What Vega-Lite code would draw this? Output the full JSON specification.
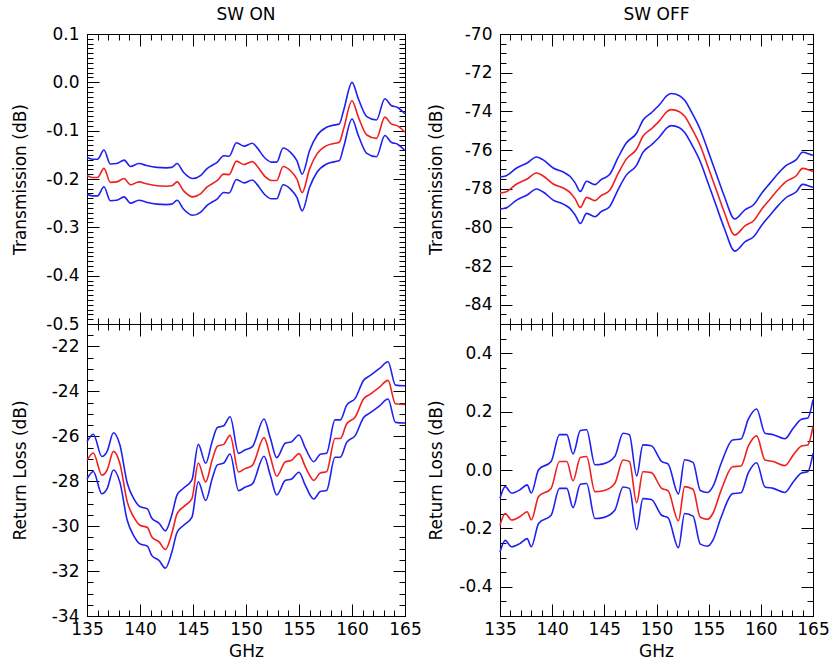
{
"$schema": "https://vega.github.io/schema/vega-lite/v6.json",
"background": "white",
"padding": {"left": 11, "top": 6, "right": 10, "bottom": 2},
"autosize": {"type": "pad"},
"datasets": {
"tl": [
{"f":135.0,"mid":-0.193,"hi":-0.155,"lo":-0.231},
{"f":135.5,"mid":-0.197,"hi":-0.159,"lo":-0.235},
{"f":136.0,"mid":-0.197,"hi":-0.159,"lo":-0.235},
{"f":136.6,"mid":-0.178,"hi":-0.140,"lo":-0.216},
{"f":137.2,"mid":-0.207,"hi":-0.169,"lo":-0.245},
{"f":137.8,"mid":-0.206,"hi":-0.168,"lo":-0.244},
{"f":138.5,"mid":-0.199,"hi":-0.161,"lo":-0.237},
{"f":139.1,"mid":-0.212,"hi":-0.174,"lo":-0.250},
{"f":139.9,"mid":-0.206,"hi":-0.168,"lo":-0.244},
{"f":140.6,"mid":-0.210,"hi":-0.172,"lo":-0.248},
{"f":141.6,"mid":-0.214,"hi":-0.176,"lo":-0.252},
{"f":142.5,"mid":-0.215,"hi":-0.177,"lo":-0.253},
{"f":143.0,"mid":-0.214,"hi":-0.176,"lo":-0.252},
{"f":143.5,"mid":-0.206,"hi":-0.168,"lo":-0.244},
{"f":144.1,"mid":-0.224,"hi":-0.186,"lo":-0.262},
{"f":145.0,"mid":-0.237,"hi":-0.199,"lo":-0.275},
{"f":145.7,"mid":-0.231,"hi":-0.193,"lo":-0.269},
{"f":146.3,"mid":-0.217,"hi":-0.179,"lo":-0.255},
{"f":147.3,"mid":-0.203,"hi":-0.165,"lo":-0.241},
{"f":147.9,"mid":-0.190,"hi":-0.152,"lo":-0.228},
{"f":148.4,"mid":-0.191,"hi":-0.153,"lo":-0.229},
{"f":149.1,"mid":-0.163,"hi":-0.125,"lo":-0.201},
{"f":149.8,"mid":-0.170,"hi":-0.132,"lo":-0.208},
{"f":150.6,"mid":-0.164,"hi":-0.126,"lo":-0.202},
{"f":151.0,"mid":-0.172,"hi":-0.134,"lo":-0.210},
{"f":151.8,"mid":-0.195,"hi":-0.157,"lo":-0.233},
{"f":152.4,"mid":-0.203,"hi":-0.165,"lo":-0.241},
{"f":152.9,"mid":-0.203,"hi":-0.165,"lo":-0.241},
{"f":153.5,"mid":-0.174,"hi":-0.136,"lo":-0.212},
{"f":154.2,"mid":-0.183,"hi":-0.145,"lo":-0.221},
{"f":154.8,"mid":-0.200,"hi":-0.162,"lo":-0.238},
{"f":155.3,"mid":-0.228,"hi":-0.190,"lo":-0.266},
{"f":156.0,"mid":-0.179,"hi":-0.141,"lo":-0.217},
{"f":156.7,"mid":-0.148,"hi":-0.110,"lo":-0.186},
{"f":157.6,"mid":-0.131,"hi":-0.093,"lo":-0.169},
{"f":158.4,"mid":-0.126,"hi":-0.088,"lo":-0.164},
{"f":158.8,"mid":-0.124,"hi":-0.086,"lo":-0.162},
{"f":159.2,"mid":-0.097,"hi":-0.059,"lo":-0.135},
{"f":160.0,"mid":-0.038,"hi":0.000,"lo":-0.076},
{"f":160.6,"mid":-0.072,"hi":-0.034,"lo":-0.110},
{"f":161.4,"mid":-0.109,"hi":-0.071,"lo":-0.147},
{"f":162.3,"mid":-0.116,"hi":-0.078,"lo":-0.154},
{"f":163.1,"mid":-0.072,"hi":-0.034,"lo":-0.110},
{"f":163.7,"mid":-0.086,"hi":-0.048,"lo":-0.124},
{"f":164.3,"mid":-0.090,"hi":-0.052,"lo":-0.128},
{"f":165.0,"mid":-0.103,"hi":-0.065,"lo":-0.141}
],
"tr": [
{"f":135.0,"mid":-78.22,"hi":-77.39,"lo":-79.05},
{"f":135.6,"mid":-78.16,"hi":-77.33,"lo":-78.99},
{"f":136.6,"mid":-77.76,"hi":-76.93,"lo":-78.59},
{"f":137.6,"mid":-77.50,"hi":-76.67,"lo":-78.33},
{"f":138.5,"mid":-77.19,"hi":-76.36,"lo":-78.02},
{"f":139.1,"mid":-77.33,"hi":-76.50,"lo":-78.16},
{"f":140.1,"mid":-77.76,"hi":-76.93,"lo":-78.59},
{"f":141.1,"mid":-77.98,"hi":-77.15,"lo":-78.81},
{"f":141.7,"mid":-78.19,"hi":-77.36,"lo":-79.02},
{"f":142.2,"mid":-78.53,"hi":-77.70,"lo":-79.36},
{"f":142.7,"mid":-78.97,"hi":-78.14,"lo":-79.80},
{"f":143.3,"mid":-78.45,"hi":-77.62,"lo":-79.28},
{"f":144.1,"mid":-78.62,"hi":-77.79,"lo":-79.45},
{"f":144.7,"mid":-78.36,"hi":-77.53,"lo":-79.19},
{"f":145.5,"mid":-78.10,"hi":-77.27,"lo":-78.93},
{"f":146.3,"mid":-77.24,"hi":-76.41,"lo":-78.07},
{"f":147.1,"mid":-76.47,"hi":-75.64,"lo":-77.30},
{"f":148.1,"mid":-75.95,"hi":-75.12,"lo":-76.78},
{"f":148.7,"mid":-75.29,"hi":-74.46,"lo":-76.12},
{"f":149.5,"mid":-74.91,"hi":-74.08,"lo":-75.74},
{"f":150.3,"mid":-74.48,"hi":-73.65,"lo":-75.31},
{"f":151.0,"mid":-74.02,"hi":-73.19,"lo":-74.85},
{"f":151.4,"mid":-73.91,"hi":-73.08,"lo":-74.74},
{"f":152.2,"mid":-74.02,"hi":-73.19,"lo":-74.85},
{"f":152.7,"mid":-74.26,"hi":-73.43,"lo":-75.09},
{"f":153.4,"mid":-74.91,"hi":-74.08,"lo":-75.74},
{"f":154.2,"mid":-75.78,"hi":-74.95,"lo":-76.61},
{"f":154.9,"mid":-76.81,"hi":-75.98,"lo":-77.64},
{"f":155.7,"mid":-78.02,"hi":-77.19,"lo":-78.85},
{"f":156.5,"mid":-79.22,"hi":-78.39,"lo":-80.05},
{"f":157.5,"mid":-80.40,"hi":-79.57,"lo":-81.23},
{"f":158.5,"mid":-79.91,"hi":-79.08,"lo":-80.74},
{"f":159.3,"mid":-79.66,"hi":-78.83,"lo":-80.49},
{"f":160.1,"mid":-79.05,"hi":-78.22,"lo":-79.88},
{"f":160.9,"mid":-78.53,"hi":-77.70,"lo":-79.36},
{"f":161.7,"mid":-78.02,"hi":-77.19,"lo":-78.85},
{"f":162.4,"mid":-77.64,"hi":-76.81,"lo":-78.47},
{"f":163.4,"mid":-77.33,"hi":-76.50,"lo":-78.16},
{"f":164.0,"mid":-76.95,"hi":-76.12,"lo":-77.78},
{"f":164.8,"mid":-77.07,"hi":-76.24,"lo":-77.90},
{"f":165.0,"mid":-77.10,"hi":-76.27,"lo":-77.93}
],
"bl": [
{"f":135.0,"mid":-27.07,"hi":-26.24,"lo":-27.90},
{"f":135.6,"mid":-26.74,"hi":-25.91,"lo":-27.57},
{"f":136.4,"mid":-27.73,"hi":-26.90,"lo":-28.56},
{"f":136.9,"mid":-27.50,"hi":-26.67,"lo":-28.33},
{"f":137.5,"mid":-26.67,"hi":-25.84,"lo":-27.50},
{"f":138.1,"mid":-27.21,"hi":-26.38,"lo":-28.04},
{"f":138.8,"mid":-28.92,"hi":-28.09,"lo":-29.75},
{"f":139.4,"mid":-29.59,"hi":-28.76,"lo":-30.42},
{"f":140.0,"mid":-29.96,"hi":-29.13,"lo":-30.79},
{"f":140.7,"mid":-30.06,"hi":-29.23,"lo":-30.89},
{"f":141.1,"mid":-30.47,"hi":-29.64,"lo":-31.30},
{"f":141.8,"mid":-30.70,"hi":-29.87,"lo":-31.53},
{"f":142.4,"mid":-31.04,"hi":-30.21,"lo":-31.87},
{"f":143.0,"mid":-30.33,"hi":-29.50,"lo":-31.16},
{"f":143.5,"mid":-29.44,"hi":-28.61,"lo":-30.27},
{"f":144.1,"mid":-29.14,"hi":-28.31,"lo":-29.97},
{"f":144.9,"mid":-28.77,"hi":-27.94,"lo":-29.60},
{"f":145.5,"mid":-27.19,"hi":-26.36,"lo":-28.02},
{"f":146.2,"mid":-28.03,"hi":-27.20,"lo":-28.86},
{"f":146.8,"mid":-27.07,"hi":-26.24,"lo":-27.90},
{"f":147.3,"mid":-26.44,"hi":-25.61,"lo":-27.27},
{"f":147.9,"mid":-26.36,"hi":-25.53,"lo":-27.19},
{"f":148.5,"mid":-25.96,"hi":-25.13,"lo":-26.79},
{"f":149.3,"mid":-27.59,"hi":-26.76,"lo":-28.42},
{"f":149.9,"mid":-27.44,"hi":-26.61,"lo":-28.27},
{"f":150.6,"mid":-27.29,"hi":-26.46,"lo":-28.12},
{"f":151.7,"mid":-26.06,"hi":-25.23,"lo":-26.89},
{"f":152.3,"mid":-26.92,"hi":-26.09,"lo":-27.75},
{"f":152.9,"mid":-27.78,"hi":-26.95,"lo":-28.61},
{"f":153.7,"mid":-27.14,"hi":-26.31,"lo":-27.97},
{"f":154.3,"mid":-27.07,"hi":-26.24,"lo":-27.90},
{"f":155.0,"mid":-26.77,"hi":-25.94,"lo":-27.60},
{"f":155.6,"mid":-27.36,"hi":-26.53,"lo":-28.19},
{"f":156.4,"mid":-27.96,"hi":-27.13,"lo":-28.79},
{"f":157.0,"mid":-27.63,"hi":-26.80,"lo":-28.46},
{"f":157.6,"mid":-27.58,"hi":-26.75,"lo":-28.41},
{"f":158.4,"mid":-26.10,"hi":-25.27,"lo":-26.93},
{"f":158.9,"mid":-26.10,"hi":-25.27,"lo":-26.93},
{"f":159.5,"mid":-25.44,"hi":-24.61,"lo":-26.27},
{"f":160.3,"mid":-25.14,"hi":-24.31,"lo":-25.97},
{"f":161.1,"mid":-24.33,"hi":-23.50,"lo":-25.16},
{"f":161.7,"mid":-24.13,"hi":-23.30,"lo":-24.96},
{"f":162.6,"mid":-23.81,"hi":-22.98,"lo":-24.64},
{"f":163.4,"mid":-23.51,"hi":-22.68,"lo":-24.34},
{"f":164.1,"mid":-24.55,"hi":-23.72,"lo":-25.38},
{"f":165.0,"mid":-24.58,"hi":-23.75,"lo":-25.41}
],
"br": [
{"f":135.0,"mid":-0.189,"hi":-0.097,"lo":-0.281},
{"f":135.5,"mid":-0.149,"hi":-0.057,"lo":-0.241},
{"f":136.1,"mid":-0.171,"hi":-0.079,"lo":-0.263},
{"f":136.9,"mid":-0.160,"hi":-0.068,"lo":-0.252},
{"f":137.6,"mid":-0.143,"hi":-0.051,"lo":-0.235},
{"f":138.0,"mid":-0.171,"hi":-0.079,"lo":-0.263},
{"f":138.7,"mid":-0.091,"hi":0.001,"lo":-0.183},
{"f":139.9,"mid":-0.063,"hi":0.029,"lo":-0.155},
{"f":140.7,"mid":0.029,"hi":0.121,"lo":-0.063},
{"f":141.4,"mid":0.029,"hi":0.121,"lo":-0.063},
{"f":142.0,"mid":-0.037,"hi":0.055,"lo":-0.129},
{"f":142.7,"mid":0.043,"hi":0.135,"lo":-0.049},
{"f":143.3,"mid":0.046,"hi":0.138,"lo":-0.046},
{"f":144.1,"mid":-0.074,"hi":0.018,"lo":-0.166},
{"f":144.9,"mid":-0.071,"hi":0.021,"lo":-0.163},
{"f":146.0,"mid":-0.046,"hi":0.046,"lo":-0.138},
{"f":146.8,"mid":0.034,"hi":0.126,"lo":-0.058},
{"f":147.4,"mid":0.029,"hi":0.121,"lo":-0.063},
{"f":148.1,"mid":-0.112,"hi":-0.020,"lo":-0.204},
{"f":148.7,"mid":-0.006,"hi":0.086,"lo":-0.098},
{"f":149.5,"mid":-0.009,"hi":0.083,"lo":-0.101},
{"f":150.5,"mid":-0.063,"hi":0.029,"lo":-0.155},
{"f":151.1,"mid":-0.071,"hi":0.021,"lo":-0.163},
{"f":152.1,"mid":-0.174,"hi":-0.082,"lo":-0.266},
{"f":152.7,"mid":-0.057,"hi":0.035,"lo":-0.149},
{"f":153.5,"mid":-0.066,"hi":0.026,"lo":-0.158},
{"f":154.2,"mid":-0.162,"hi":-0.070,"lo":-0.254},
{"f":154.9,"mid":-0.169,"hi":-0.077,"lo":-0.261},
{"f":155.4,"mid":-0.149,"hi":-0.057,"lo":-0.241},
{"f":156.2,"mid":-0.069,"hi":0.023,"lo":-0.161},
{"f":157.3,"mid":0.011,"hi":0.103,"lo":-0.081},
{"f":158.1,"mid":0.014,"hi":0.106,"lo":-0.078},
{"f":158.8,"mid":0.082,"hi":0.174,"lo":-0.010},
{"f":159.6,"mid":0.117,"hi":0.209,"lo":0.025},
{"f":160.4,"mid":0.034,"hi":0.126,"lo":-0.058},
{"f":161.2,"mid":0.029,"hi":0.121,"lo":-0.063},
{"f":162.3,"mid":0.015,"hi":0.107,"lo":-0.077},
{"f":163.1,"mid":0.051,"hi":0.143,"lo":-0.041},
{"f":163.9,"mid":0.082,"hi":0.174,"lo":-0.010},
{"f":164.5,"mid":0.086,"hi":0.178,"lo":-0.006},
{"f":165.0,"mid":0.149,"hi":0.241,"lo":0.057}
]
},
"concat": [
{"width": 318, "height": 290, "title": {"text": "SW ON", "offset": 1}, "data": {"name": "tl"},
 "layer": [
  {"mark": {"type": "line", "color": "#2020f0", "strokeWidth": 1.6, "interpolate": "monotone"},
   "encoding": {
    "x": {"field": "f", "type": "quantitative", "scale": {"domain": [135, 165], "nice": false, "zero": false},
          "axis": {"orient": "bottom", "values": [135,140,145,150,155,160,165], "tickSize": -12, "labels": false, "title": null}},
    "y": {"field": "hi", "type": "quantitative", "scale": {"domain": [-0.5, 0.1], "nice": false, "zero": false},
          "axis": {"orient": "left", "values": [-0.5,-0.4,-0.3,-0.2,-0.1,0,0.1], "tickSize": -12, "labelPadding": 20, "format": ".1f", "labelExpr": "replace(datum.label, '\u2212', '-')", "title": "Transmission (dB)", "titleX": -67, "titleY": 145, "titleBaseline": "middle", "titleAlign": "center", "titleAngle": -90}}}},
  {"mark": {"type": "line", "color": "#2020f0", "strokeWidth": 1.6, "interpolate": "monotone"},
   "encoding": {
    "x": {"field": "f", "type": "quantitative", "scale": {"domain": [135, 165], "nice": false, "zero": false},
          "axis": {"orient": "top", "values": [135,140,145,150,155,160,165], "tickSize": -12, "labels": false, "title": null}},
    "y": {"field": "lo", "type": "quantitative", "scale": {"domain": [-0.5, 0.1], "nice": false, "zero": false},
          "axis": {"orient": "right", "values": [-0.5,-0.4,-0.3,-0.2,-0.1,0,0.1], "tickSize": -12, "labels": false, "title": null}}}},
  {"mark": {"type": "line", "color": "#f02020", "strokeWidth": 1.6, "interpolate": "monotone"},
   "encoding": {
    "x": {"field": "f", "type": "quantitative", "scale": {"domain": [135, 165], "nice": false, "zero": false},
          "axis": {"orient": "bottom", "values": [135,136,137,138,139,140,141,142,143,144,145,146,147,148,149,150,151,152,153,154,155,156,157,158,159,160,161,162,163,164,165], "tickSize": -6, "labels": false, "domain": false, "title": null}},
    "y": {"field": "mid", "type": "quantitative", "scale": {"domain": [-0.5, 0.1], "nice": false, "zero": false},
          "axis": {"orient": "left", "values": [-0.5,-0.49,-0.48,-0.47,-0.46,-0.45,-0.44,-0.43,-0.42,-0.41,-0.4,-0.39,-0.38,-0.37,-0.36,-0.35,-0.34,-0.33,-0.32,-0.31,-0.3,-0.29,-0.28,-0.27,-0.26,-0.25,-0.24,-0.23,-0.22,-0.21,-0.2,-0.19,-0.18,-0.17,-0.16,-0.15,-0.14,-0.13,-0.12,-0.11,-0.1,-0.09,-0.08,-0.07,-0.06,-0.05,-0.04,-0.03,-0.02,-0.01,0,0.01,0.02,0.03,0.04,0.05,0.06,0.07,0.08,0.09,0.1], "tickSize": -6, "labels": false, "domain": false, "title": null}}}},
  {"mark": {"type": "line", "opacity": 0},
   "encoding": {
    "x": {"field": "f", "type": "quantitative", "scale": {"domain": [135, 165], "nice": false, "zero": false},
          "axis": {"orient": "top", "values": [135,136,137,138,139,140,141,142,143,144,145,146,147,148,149,150,151,152,153,154,155,156,157,158,159,160,161,162,163,164,165], "tickSize": -6, "labels": false, "domain": false, "title": null}},
    "y": {"field": "mid", "type": "quantitative", "scale": {"domain": [-0.5, 0.1], "nice": false, "zero": false},
          "axis": {"orient": "right", "values": [-0.5,-0.49,-0.48,-0.47,-0.46,-0.45,-0.44,-0.43,-0.42,-0.41,-0.4,-0.39,-0.38,-0.37,-0.36,-0.35,-0.34,-0.33,-0.32,-0.31,-0.3,-0.29,-0.28,-0.27,-0.26,-0.25,-0.24,-0.23,-0.22,-0.21,-0.2,-0.19,-0.18,-0.17,-0.16,-0.15,-0.14,-0.13,-0.12,-0.11,-0.1,-0.09,-0.08,-0.07,-0.06,-0.05,-0.04,-0.03,-0.02,-0.01,0,0.01,0.02,0.03,0.04,0.05,0.06,0.07,0.08,0.09,0.1], "tickSize": -6, "labels": false, "domain": false, "title": null}}}}
 ],
 "resolve": {"axis": {"x": "independent", "y": "independent"}}
},
{"width": 313, "height": 290, "title": {"text": "SW OFF", "offset": 1}, "data": {"name": "tr"},
 "layer": [
  {"mark": {"type": "line", "color": "#2020f0", "strokeWidth": 1.6, "interpolate": "monotone"},
   "encoding": {
    "x": {"field": "f", "type": "quantitative", "scale": {"domain": [135, 165], "nice": false, "zero": false},
          "axis": {"orient": "bottom", "values": [135,140,145,150,155,160,165], "tickSize": -12, "labels": false, "title": null}},
    "y": {"field": "hi", "type": "quantitative", "scale": {"domain": [-85, -70], "nice": false, "zero": false},
          "axis": {"orient": "left", "values": [-84,-82,-80,-78,-76,-74,-72,-70], "tickSize": -12, "labelPadding": 20, "format": "d", "labelExpr": "replace(datum.label, '\u2212', '-')", "title": "Transmission (dB)", "titleX": -64, "titleY": 145, "titleBaseline": "middle", "titleAlign": "center", "titleAngle": -90}}}},
  {"mark": {"type": "line", "color": "#2020f0", "strokeWidth": 1.6, "interpolate": "monotone"},
   "encoding": {
    "x": {"field": "f", "type": "quantitative", "scale": {"domain": [135, 165], "nice": false, "zero": false},
          "axis": {"orient": "top", "values": [135,140,145,150,155,160,165], "tickSize": -12, "labels": false, "title": null}},
    "y": {"field": "lo", "type": "quantitative", "scale": {"domain": [-85, -70], "nice": false, "zero": false},
          "axis": {"orient": "right", "values": [-84,-82,-80,-78,-76,-74,-72,-70], "tickSize": -12, "labels": false, "title": null}}}},
  {"mark": {"type": "line", "color": "#f02020", "strokeWidth": 1.6, "interpolate": "monotone"},
   "encoding": {
    "x": {"field": "f", "type": "quantitative", "scale": {"domain": [135, 165], "nice": false, "zero": false},
          "axis": {"orient": "bottom", "values": [135,136,137,138,139,140,141,142,143,144,145,146,147,148,149,150,151,152,153,154,155,156,157,158,159,160,161,162,163,164,165], "tickSize": -6, "labels": false, "domain": false, "title": null}},
    "y": {"field": "mid", "type": "quantitative", "scale": {"domain": [-85, -70], "nice": false, "zero": false},
          "axis": {"orient": "left", "values": [-85,-84.5,-84,-83.5,-83,-82.5,-82,-81.5,-81,-80.5,-80,-79.5,-79,-78.5,-78,-77.5,-77,-76.5,-76,-75.5,-75,-74.5,-74,-73.5,-73,-72.5,-72,-71.5,-71,-70.5,-70], "tickSize": -6, "labels": false, "domain": false, "title": null}}}},
  {"mark": {"type": "line", "opacity": 0},
   "encoding": {
    "x": {"field": "f", "type": "quantitative", "scale": {"domain": [135, 165], "nice": false, "zero": false},
          "axis": {"orient": "top", "values": [135,136,137,138,139,140,141,142,143,144,145,146,147,148,149,150,151,152,153,154,155,156,157,158,159,160,161,162,163,164,165], "tickSize": -6, "labels": false, "domain": false, "title": null}},
    "y": {"field": "mid", "type": "quantitative", "scale": {"domain": [-85, -70], "nice": false, "zero": false},
          "axis": {"orient": "right", "values": [-85,-84.5,-84,-83.5,-83,-82.5,-82,-81.5,-81,-80.5,-80,-79.5,-79,-78.5,-78,-77.5,-77,-76.5,-76,-75.5,-75,-74.5,-74,-73.5,-73,-72.5,-72,-71.5,-71,-70.5,-70], "tickSize": -6, "labels": false, "domain": false, "title": null}}}}
 ],
 "resolve": {"axis": {"x": "independent", "y": "independent"}}
},
{"width": 318, "height": 292, "data": {"name": "bl"},
 "layer": [
  {"mark": {"type": "line", "color": "#2020f0", "strokeWidth": 1.6, "interpolate": "monotone"},
   "encoding": {
    "x": {"field": "f", "type": "quantitative", "scale": {"domain": [135, 165], "nice": false, "zero": false},
          "axis": {"orient": "bottom", "values": [135,140,145,150,155,160,165], "tickSize": -12, "labelPadding": 17, "format": "d", "title": "GHz", "titleX": 159, "titleY": 35, "titleBaseline": "middle", "titleAlign": "center"}},
    "y": {"field": "hi", "type": "quantitative", "scale": {"domain": [-34, -21], "nice": false, "zero": false},
          "axis": {"orient": "left", "values": [-34,-32,-30,-28,-26,-24,-22], "tickSize": -12, "labelPadding": 20, "format": "d", "labelExpr": "replace(datum.label, '\u2212', '-')", "title": "Return Loss (dB)", "titleX": -67, "titleY": 146, "titleBaseline": "middle", "titleAlign": "center", "titleAngle": -90}}}},
  {"mark": {"type": "line", "color": "#2020f0", "strokeWidth": 1.6, "interpolate": "monotone"},
   "encoding": {
    "x": {"field": "f", "type": "quantitative", "scale": {"domain": [135, 165], "nice": false, "zero": false},
          "axis": {"orient": "top", "values": [135,140,145,150,155,160,165], "tickSize": -12, "labels": false, "title": null}},
    "y": {"field": "lo", "type": "quantitative", "scale": {"domain": [-34, -21], "nice": false, "zero": false},
          "axis": {"orient": "right", "values": [-34,-32,-30,-28,-26,-24,-22], "tickSize": -12, "labels": false, "title": null}}}},
  {"mark": {"type": "line", "color": "#f02020", "strokeWidth": 1.6, "interpolate": "monotone"},
   "encoding": {
    "x": {"field": "f", "type": "quantitative", "scale": {"domain": [135, 165], "nice": false, "zero": false},
          "axis": {"orient": "bottom", "values": [135,136,137,138,139,140,141,142,143,144,145,146,147,148,149,150,151,152,153,154,155,156,157,158,159,160,161,162,163,164,165], "tickSize": -6, "labels": false, "domain": false, "title": null}},
    "y": {"field": "mid", "type": "quantitative", "scale": {"domain": [-34, -21], "nice": false, "zero": false},
          "axis": {"orient": "left", "values": [-34,-33.5,-33,-32.5,-32,-31.5,-31,-30.5,-30,-29.5,-29,-28.5,-28,-27.5,-27,-26.5,-26,-25.5,-25,-24.5,-24,-23.5,-23,-22.5,-22,-21.5,-21], "tickSize": -6, "labels": false, "domain": false, "title": null}}}},
  {"mark": {"type": "line", "opacity": 0},
   "encoding": {
    "x": {"field": "f", "type": "quantitative", "scale": {"domain": [135, 165], "nice": false, "zero": false},
          "axis": {"orient": "top", "values": [135,136,137,138,139,140,141,142,143,144,145,146,147,148,149,150,151,152,153,154,155,156,157,158,159,160,161,162,163,164,165], "tickSize": -6, "labels": false, "domain": false, "title": null}},
    "y": {"field": "mid", "type": "quantitative", "scale": {"domain": [-34, -21], "nice": false, "zero": false},
          "axis": {"orient": "right", "values": [-34,-33.5,-33,-32.5,-32,-31.5,-31,-30.5,-30,-29.5,-29,-28.5,-28,-27.5,-27,-26.5,-26,-25.5,-25,-24.5,-24,-23.5,-23,-22.5,-22,-21.5,-21], "tickSize": -6, "labels": false, "domain": false, "title": null}}}}
 ],
 "resolve": {"axis": {"x": "independent", "y": "independent"}}
},
{"width": 313, "height": 292, "data": {"name": "br"},
 "layer": [
  {"mark": {"type": "line", "color": "#2020f0", "strokeWidth": 1.6, "interpolate": "monotone"},
   "encoding": {
    "x": {"field": "f", "type": "quantitative", "scale": {"domain": [135, 165], "nice": false, "zero": false},
          "axis": {"orient": "bottom", "values": [135,140,145,150,155,160,165], "tickSize": -12, "labelPadding": 17, "format": "d", "title": "GHz", "titleX": 156, "titleY": 35, "titleBaseline": "middle", "titleAlign": "center"}},
    "y": {"field": "hi", "type": "quantitative", "scale": {"domain": [-0.5, 0.5], "nice": false, "zero": false},
          "axis": {"orient": "left", "values": [-0.4,-0.2,0,0.2,0.4], "tickSize": -12, "labelPadding": 20, "format": ".1f", "labelExpr": "replace(datum.label, '\u2212', '-')", "title": "Return Loss (dB)", "titleX": -64, "titleY": 146, "titleBaseline": "middle", "titleAlign": "center", "titleAngle": -90}}}},
  {"mark": {"type": "line", "color": "#2020f0", "strokeWidth": 1.6, "interpolate": "monotone"},
   "encoding": {
    "x": {"field": "f", "type": "quantitative", "scale": {"domain": [135, 165], "nice": false, "zero": false},
          "axis": {"orient": "top", "values": [135,140,145,150,155,160,165], "tickSize": -12, "labels": false, "title": null}},
    "y": {"field": "lo", "type": "quantitative", "scale": {"domain": [-0.5, 0.5], "nice": false, "zero": false},
          "axis": {"orient": "right", "values": [-0.4,-0.2,0,0.2,0.4], "tickSize": -12, "labels": false, "title": null}}}},
  {"mark": {"type": "line", "color": "#f02020", "strokeWidth": 1.6, "interpolate": "monotone"},
   "encoding": {
    "x": {"field": "f", "type": "quantitative", "scale": {"domain": [135, 165], "nice": false, "zero": false},
          "axis": {"orient": "bottom", "values": [135,136,137,138,139,140,141,142,143,144,145,146,147,148,149,150,151,152,153,154,155,156,157,158,159,160,161,162,163,164,165], "tickSize": -6, "labels": false, "domain": false, "title": null}},
    "y": {"field": "mid", "type": "quantitative", "scale": {"domain": [-0.5, 0.5], "nice": false, "zero": false},
          "axis": {"orient": "left", "values": [-0.5,-0.45,-0.4,-0.35,-0.3,-0.25,-0.2,-0.15,-0.1,-0.05,0,0.05,0.1,0.15,0.2,0.25,0.3,0.35,0.4,0.45,0.5], "tickSize": -6, "labels": false, "domain": false, "title": null}}}},
  {"mark": {"type": "line", "opacity": 0},
   "encoding": {
    "x": {"field": "f", "type": "quantitative", "scale": {"domain": [135, 165], "nice": false, "zero": false},
          "axis": {"orient": "top", "values": [135,136,137,138,139,140,141,142,143,144,145,146,147,148,149,150,151,152,153,154,155,156,157,158,159,160,161,162,163,164,165], "tickSize": -6, "labels": false, "domain": false, "title": null}},
    "y": {"field": "mid", "type": "quantitative", "scale": {"domain": [-0.5, 0.5], "nice": false, "zero": false},
          "axis": {"orient": "right", "values": [-0.5,-0.45,-0.4,-0.35,-0.3,-0.25,-0.2,-0.15,-0.1,-0.05,0,0.05,0.1,0.15,0.2,0.25,0.3,0.35,0.4,0.45,0.5], "tickSize": -6, "labels": false, "domain": false, "title": null}}}}
 ],
 "resolve": {"axis": {"x": "independent", "y": "independent"}}
}
],
"columns": 2,
"spacing": {"row": 0, "column": 95},
"bounds": "flush",
"config": {
 "view": {"stroke": null},
 "axis": {"grid": false, "domainColor": "black", "domainWidth": 1, "tickColor": "black", "tickWidth": 1, "labelColor": "black", "labelFont": "DejaVu Sans", "labelFontSize": 17, "titleFont": "DejaVu Sans", "titleFontSize": 17, "titleFontWeight": "normal", "titleColor": "black", "labelFlush": false, "labelOverlap": false},
 "title": {"font": "DejaVu Sans", "fontSize": 17, "fontWeight": "normal", "color": "black"}
}
}
